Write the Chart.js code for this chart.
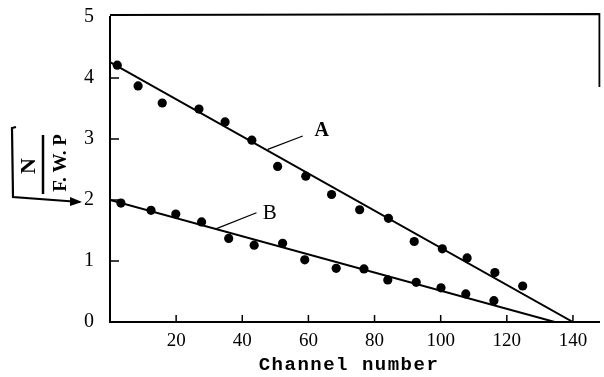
<!DOCTYPE html>
<html>
<head>
<meta charset="utf-8">
<script src="https://cdn.jsdelivr.net/npm/chart.js@4.4.0/dist/chart.umd.min.js"></script>
<style>
    html, body { margin: 0; padding: 0; background: #fff; }
</style>
</head>
<body>
<canvas id="channelChart" width="604" height="377"></canvas>
<script>
// measured points, curve A
const channelA = [2.2, 8.5, 15.8, 26.9, 34.8, 42.9, 50.7, 59.2, 67.0, 75.5, 84.2, 92.0, 100.5, 108.0, 116.4, 124.8];
const valuesA  = [4.21, 3.87, 3.59, 3.49, 3.28, 2.98, 2.55, 2.39, 2.09, 1.84, 1.70, 1.32, 1.20, 1.05, 0.81, 0.59];
// measured points, curve B
const channelB = [3.3, 12.4, 19.9, 27.7, 35.9, 43.6, 52.2, 58.9, 68.4, 76.8, 84.0, 92.6, 100.1, 107.6, 116.1];
const valuesB  = [1.95, 1.83, 1.77, 1.64, 1.37, 1.26, 1.29, 1.02, 0.88, 0.87, 0.69, 0.65, 0.56, 0.46, 0.35];
// fitted straight lines
const fitAx = [0, 140];
const fitAy = [4.26, 0];
const fitBx = [0, 134.5];
const fitBy = [2.0, 0];
// label leaders
const leaderAx = [47.7, 58.3];
const leaderAy = [2.83, 3.05];
const leaderBx = [32.2, 44.3];
const leaderBy = [1.53, 1.79];
const labelA = { text: 'A', x: 64.0, y: 3.14 };
const labelB = { text: 'B', x: 48.3, y: 1.78 };
// axes
const xTicks = [20, 40, 60, 80, 100, 120, 140];
const yTicks = [0, 1, 2, 3, 4, 5];
const xTitle = 'Channel number';

const toPoints = (xs, ys) => xs.map((x, i) => ({ x: x, y: ys[i] }));

const paperPlugin = {
    id: 'paper',
    afterDatasetsDraw(chart) {
        const ctx = chart.ctx;
        const xs = chart.scales.x;
        const ys = chart.scales.y;
        const area = chart.chartArea;
        ctx.save();
        ctx.strokeStyle = '#000';
        ctx.fillStyle = '#000';

        // inner tick marks
        ctx.lineWidth = 1.5;
        xTicks.forEach(v => {
            const px = xs.getPixelForValue(v);
            ctx.beginPath();
            ctx.moveTo(px, area.bottom);
            ctx.lineTo(px, area.bottom - 7);
            ctx.stroke();
        });
        yTicks.slice(1, 5).forEach(v => {
            const py = ys.getPixelForValue(v);
            ctx.beginPath();
            ctx.moveTo(area.left, py);
            ctx.lineTo(area.left + 9, py);
            ctx.stroke();
        });

        // frame top and right
        ctx.lineWidth = 1.8;
        ctx.beginPath();
        ctx.moveTo(area.left, area.top - 2);
        ctx.lineTo(area.right, area.top - 3);
        ctx.lineTo(area.right, area.top + 70);
        ctx.stroke();

        // A / B labels
        ctx.textAlign = 'center';
        ctx.textBaseline = 'middle';
        ctx.font = 'bold 20px "Liberation Serif"';
        ctx.fillText(labelA.text, xs.getPixelForValue(labelA.x), ys.getPixelForValue(labelA.y));
        ctx.font = '21px "Liberation Serif"';
        ctx.fillText(labelB.text, xs.getPixelForValue(labelB.x), ys.getPixelForValue(labelB.y));

        // x title
        ctx.font = 'bold 19px "Liberation Mono"';
        ctx.letterSpacing = '1.5px';
        ctx.fillText(xTitle, 349, 365);
        ctx.letterSpacing = '0px';

        // y title: sqrt(N / F. W. P), rotated
        ctx.lineWidth = 2.2;
        ctx.beginPath();
        ctx.moveTo(16, 127);
        ctx.lineTo(12, 128);
        ctx.lineTo(13, 197);
        ctx.lineTo(80, 202);
        ctx.stroke();
        ctx.beginPath();
        ctx.moveTo(70, 197);
        ctx.lineTo(82, 202);
        ctx.lineTo(70, 206);
        ctx.closePath();
        ctx.fill();
        ctx.lineWidth = 2.5;
        ctx.beginPath();
        ctx.moveTo(43, 135);
        ctx.lineTo(43, 194);
        ctx.stroke();
        ctx.save();
        ctx.translate(29, 166);
        ctx.rotate(-Math.PI / 2);
        ctx.font = 'bold 22px "Liberation Serif"';
        ctx.fillText('N', 0, 0);
        ctx.restore();
        ctx.save();
        ctx.translate(61, 163);
        ctx.rotate(-Math.PI / 2);
        ctx.font = 'bold 19px "Liberation Serif"';
        ctx.fillText('F. W. P', 0, 0);
        ctx.restore();

        ctx.restore();
    }
};

const dot = { showLine: false, pointRadius: 4.6, pointBackgroundColor: '#000', pointBorderWidth: 0 };
const fit = { showLine: true, pointRadius: 0, borderColor: '#000', borderWidth: 2 };
const leader = { showLine: true, pointRadius: 0, borderColor: '#000', borderWidth: 1.2 };

new Chart(document.getElementById('channelChart').getContext('2d'), {
    type: 'scatter',
    data: {
        datasets: [
            { label: 'fit A', data: toPoints(fitAx, fitAy), ...fit },
            { label: 'fit B', data: toPoints(fitBx, fitBy), ...fit },
            { label: 'leader A', data: toPoints(leaderAx, leaderAy), ...leader },
            { label: 'leader B', data: toPoints(leaderBx, leaderBy), ...leader },
            { label: 'A', data: toPoints(channelA, valuesA), ...dot },
            { label: 'B', data: toPoints(channelB, valuesB), ...dot }
        ]
    },
    options: {
        responsive: false,
        animation: false,
        devicePixelRatio: 1,
        layout: { padding: { top: 17, right: -3, left: 0, bottom: 0 } },
        plugins: {
            legend: { display: false },
            tooltip: { enabled: false }
        },
        scales: {
            x: {
                type: 'linear',
                min: 0,
                max: 148,
                afterFit: scale => {
                    scale.height = 55;
                    scale.paddingLeft = 0;
                    scale.paddingRight = 0;
                },
                grid: { display: false, drawTicks: false },
                border: { display: true, color: '#000', width: 2 },
                ticks: {
                    stepSize: 20,
                    includeBounds: false,
                    padding: 8,
                    color: '#000',
                    font: { family: '"Liberation Serif"', size: 19 },
                    callback: v => (xTicks.includes(v) ? String(v) : '')
                }
            },
            y: {
                type: 'linear',
                min: 0,
                max: 5,
                afterFit: scale => {
                    scale.width = 110;
                    scale.paddingTop = 0;
                    scale.paddingBottom = 0;
                },
                grid: { display: false, drawTicks: false },
                border: { display: true, color: '#000', width: 2 },
                ticks: {
                    stepSize: 1,
                    padding: 16,
                    color: '#000',
                    font: { family: '"Liberation Serif"', size: 20 },
                    callback: v => (yTicks.includes(v) ? String(v) : '')
                }
            }
        }
    },
    plugins: [paperPlugin]
});
</script>
</body>
</html>
